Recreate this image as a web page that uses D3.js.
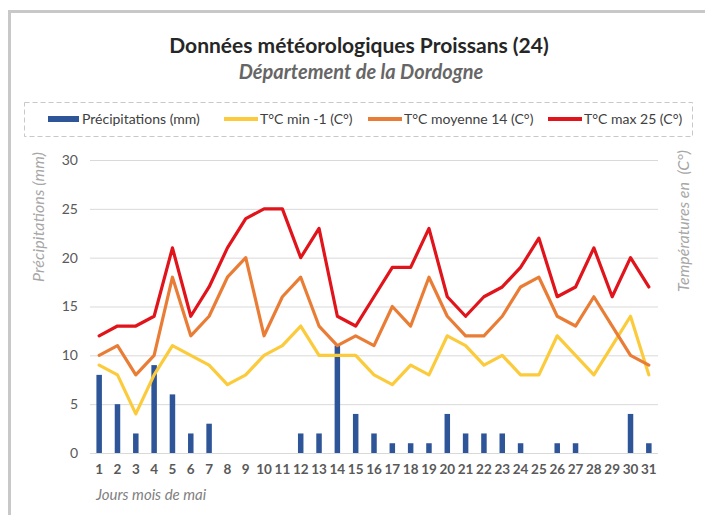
<!DOCTYPE html>
<html>
<head>
<meta charset="utf-8">
<script src="https://cdn.jsdelivr.net/npm/d3@7"></script>
<style>
  body { margin: 0; background: #fff; }
  svg { font-family: Lato, "Open Sans", sans-serif; }
</style>
</head>
<body>
<svg id="chart" width="705" height="515"></svg>
<script>
const days = d3.range(1, 32).map(String);
const precip = [8, 5, 2, 9, 6, 2, 3, 0, 0, 0, 0, 2, 2, 11, 4, 2, 1, 1, 1, 4, 2, 2, 2, 1, 0, 1, 1, 0, 0, 4, 1];
const tMin = [9, 8, 4, 8, 11, 10, 9, 7, 8, 10, 11, 13, 10, 10, 10, 8, 7, 9, 8, 12, 11, 9, 10, 8, 8, 12, 10, 8, 11, 14, 8];
const tMoy = [10, 11, 8, 10, 18, 12, 14, 18, 20, 12, 16, 18, 13, 11, 12, 11, 15, 13, 18, 14, 12, 12, 14, 17, 18, 14, 13, 16, 13, 10, 9];
const tMax = [12, 13, 13, 14, 21, 14, 17, 21, 24, 25, 25, 20, 23, 14, 13, 16, 19, 19, 23, 16, 14, 16, 17, 19, 22, 16, 17, 21, 16, 20, 17];
const yTicks = [0, 5, 10, 15, 20, 25, 30];

const legendItems = [
  { label: 'Précipitations (mm)', color: '#2e5597', type: 'bar', x: 48 },
  { label: 'T°C min -1 (C°)', color: '#fbcb3c', type: 'line', x: 224 },
  { label: 'T°C moyenne 14 (C°)', color: '#ea7d36', type: 'line', x: 368 },
  { label: 'T°C max 25 (C°)', color: '#e0141a', type: 'line', x: 548 }
];

const svg = d3.select('#chart');

// outer frame (only top and left edges visible)
svg.append('path')
  .attr('d', 'M9.5,515 L9.5,11.5 L705,11.5')
  .attr('fill', 'none')
  .attr('stroke', '#c8c8c8')
  .attr('stroke-width', 3);

// titles
svg.append('text')
  .attr('x', 359).attr('y', 53)
  .attr('text-anchor', 'middle')
  .attr('font-size', 21).attr('font-weight', 'bold')
  .attr('fill', '#262626')
  .text('Données météorologiques Proissans (24)');

svg.append('text')
  .attr('x', 361).attr('y', 79)
  .attr('text-anchor', 'middle')
  .attr('font-size', 20).attr('font-weight', 'bold').attr('font-style', 'italic')
  .attr('fill', '#666')
  .text('Département de la Dordogne');

// legend
svg.append('rect')
  .attr('x', 24.5).attr('y', 102.5).attr('width', 668).attr('height', 34)
  .attr('fill', 'none')
  .attr('stroke', '#c8c8c8')
  .attr('stroke-dasharray', '5,3');

const leg = svg.selectAll('g.leg').data(legendItems).enter()
  .append('g').attr('class', 'leg')
  .attr('transform', d => 'translate(' + d.x + ',119)');

leg.append('rect')
  .attr('x', 0)
  .attr('y', d => d.type === 'bar' ? -3 : -2)
  .attr('width', d => d.type === 'bar' ? 31 : 34)
  .attr('height', d => d.type === 'bar' ? 6 : 4)
  .attr('fill', d => d.color);

leg.append('text')
  .attr('x', d => d.type === 'bar' ? 34 : 36)
  .attr('y', 5)
  .attr('font-size', 14)
  .attr('fill', '#404040')
  .text(d => d.label);

// plot
const x = d3.scaleBand()
  .domain(days)
  .range([90, 658])
  .paddingInner(0.7)
  .paddingOuter(0.35);

const y = d3.scaleLinear().domain([0, 30]).range([453, 160]);
const cx = d => x(d) + x.bandwidth() / 2;

const yAxis = svg.append('g')
  .attr('transform', 'translate(90,0)')
  .call(d3.axisLeft(y).tickValues(yTicks).tickSize(-568).tickPadding(12));
yAxis.select('.domain').remove();
yAxis.selectAll('line').attr('stroke', '#d9d9d9');
yAxis.selectAll('text')
  .attr('font-size', 14).attr('fill', '#595959')
  .attr('font-family', 'Lato, sans-serif');

const xAxis = svg.append('g')
  .attr('transform', 'translate(0,453)')
  .call(d3.axisBottom(x).tickSize(0).tickPadding(11));
xAxis.select('.domain').remove();
xAxis.selectAll('text')
  .attr('font-size', 13.5).attr('font-weight', 'bold').attr('fill', '#595959')
  .attr('font-family', 'Lato, sans-serif');

svg.selectAll('rect.bar')
  .data(precip)
  .enter().append('rect')
  .attr('class', 'bar')
  .attr('x', (d, i) => x(days[i]))
  .attr('y', d => y(d))
  .attr('width', x.bandwidth())
  .attr('height', d => y(0) - y(d))
  .attr('fill', '#2e5597');

const line = d3.line()
  .x((d, i) => cx(days[i]))
  .y(d => y(d));

[[tMin, '#fbcb3c'], [tMoy, '#ea7d36'], [tMax, '#e0141a']].forEach(([vals, color]) => {
  svg.append('path')
    .attr('d', line(vals))
    .attr('fill', 'none')
    .attr('stroke', color)
    .attr('stroke-width', 3.2)
    .attr('stroke-linejoin', 'round')
    .attr('stroke-linecap', 'round');
});

// axis titles
svg.append('text')
  .attr('transform', 'translate(44,217) rotate(-90)')
  .attr('text-anchor', 'middle')
  .attr('font-size', 16).attr('font-style', 'italic')
  .attr('textLength', 130)
  .attr('fill', '#a6a6a6')
  .text('Précipitations (mm)');

svg.append('text')
  .attr('transform', 'translate(689,221) rotate(-90)')
  .attr('text-anchor', 'middle')
  .attr('font-size', 16).attr('font-style', 'italic')
  .attr('textLength', 142)
  .attr('fill', '#a6a6a6')
  .style('white-space', 'pre')
  .text('Températures en  (C°)');

svg.append('text')
  .attr('x', 96).attr('y', 500)
  .attr('font-size', 15).attr('font-style', 'italic')
  .attr('fill', '#7f7f7f')
  .text('Jours mois de mai');
</script>
</body>
</html>
